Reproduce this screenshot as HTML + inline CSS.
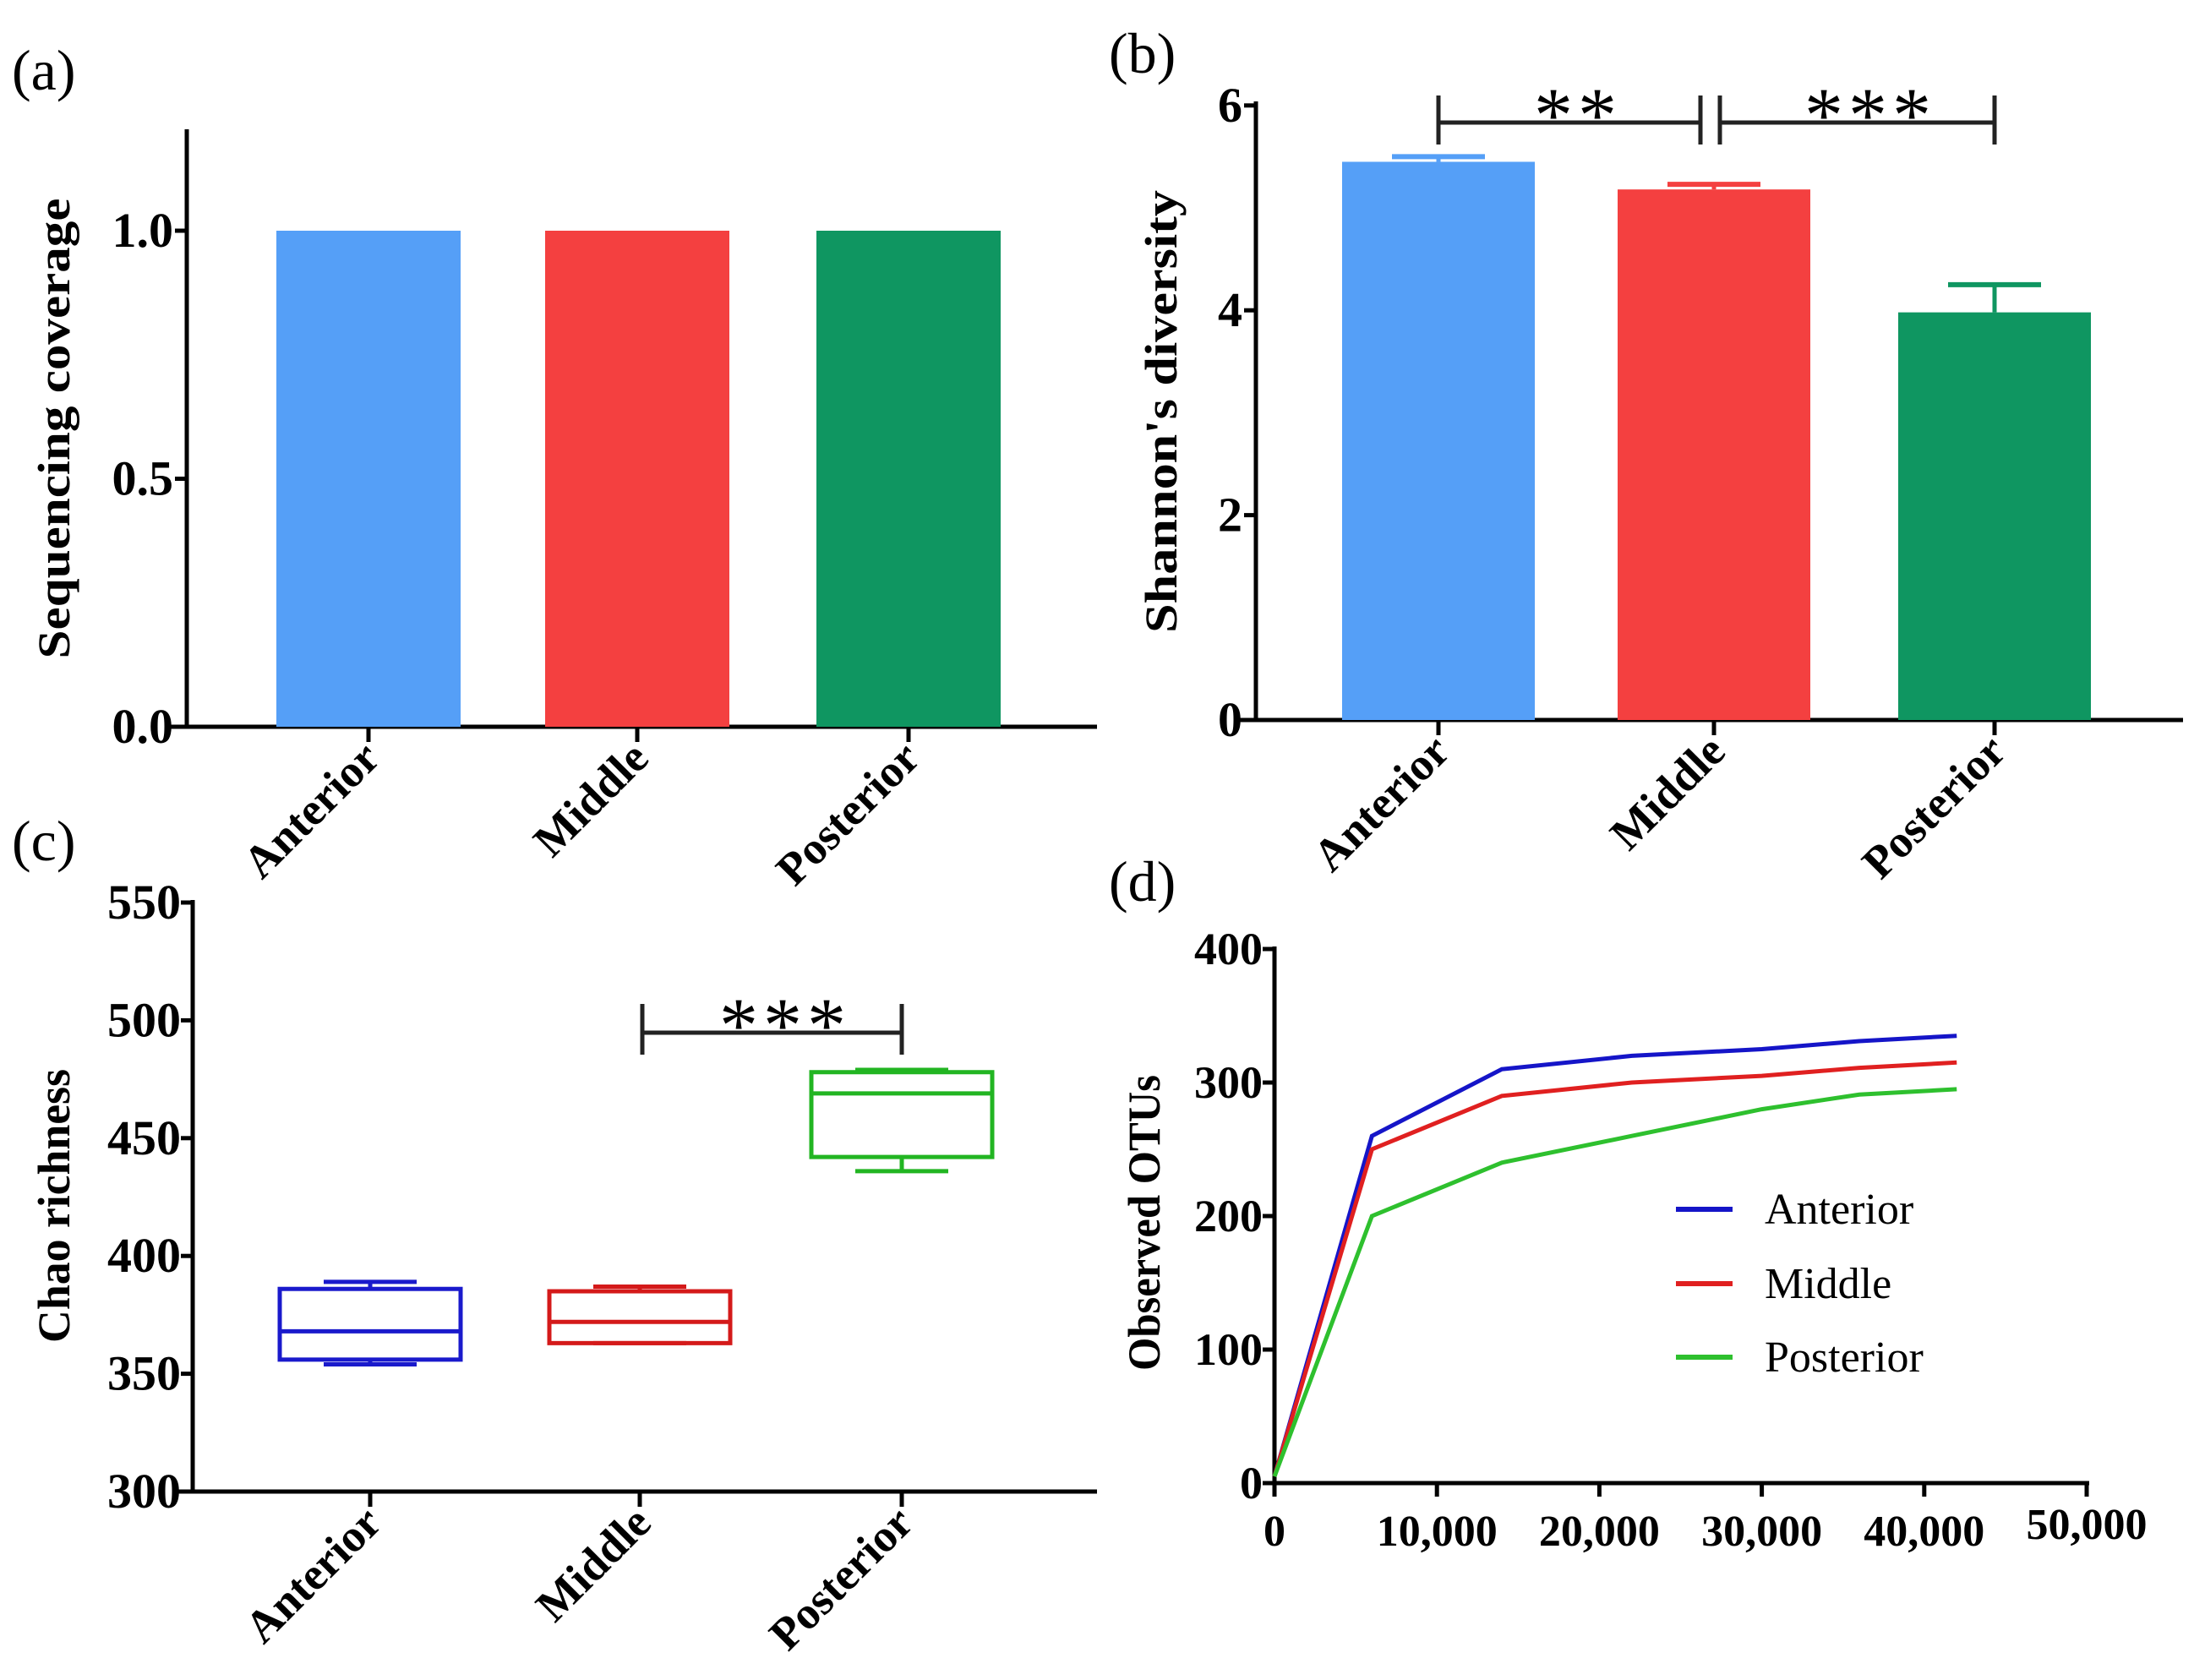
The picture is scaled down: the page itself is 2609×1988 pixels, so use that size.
<!DOCTYPE html>
<html><head><meta charset="utf-8"><style>
html,body{margin:0;padding:0;background:#fff}
svg{display:block}
text{font-family:"Liberation Serif",serif}
.b{font-weight:bold}
</style></head><body>
<svg id="fig" width="2609" height="1988" viewBox="0 0 2609 1988" xmlns="http://www.w3.org/2000/svg"></svg>
<script>
const categories = ["Anterior","Middle","Posterior"];
const coverageValues = [1.0, 1.0, 1.0];
const coverageTicks = ["0.0","0.5","1.0"];
const shannonValues = [5.45, 5.18, 3.98];
const shannonErr = [0.05, 0.05, 0.27];
const shannonTicks = [0,2,4,6];
const chaoMin = [354, 363, 436];
const chaoQ1 = [356, 363, 442];
const chaoMed = [368, 372, 469];
const chaoQ3 = [386, 385, 478];
const chaoMax = [389, 387, 479];
const chaoTicks = [300,350,400,450,500,550];
const rareX = [0, 6000, 14000, 22000, 30000, 36000, 42000];
const rareAnterior = [5, 260, 310, 320, 325, 331, 335];
const rareMiddle = [5, 250, 290, 300, 305, 311, 315];
const rarePosterior = [5, 200, 240, 260, 280, 291, 295];
const rareYTicks = [0,100,200,300,400];
const rareXTicks = ["0","10,000","20,000","30,000","40,000","50,000"];

const NS="http://www.w3.org/2000/svg";
const svg=document.getElementById('fig');
function el(tag,attrs,parent,txt){const e=document.createElementNS(NS,tag);for(const k in attrs)e.setAttribute(k,attrs[k]);if(txt!==undefined)e.textContent=txt;(parent||svg).appendChild(e);return e;}
function grp(name){const g=el('g',{});return g;}

const barColors=["#559ff7","#f44040","#0f9661"];
const boxColors=["#1a1acc","#d41a1a","#22b522"];
const lineColors=["#1515c8","#e02020","#2ec02e"];

function panelLabel(g,txt,x,y){const t=el('text',{x:x,y:y,'font-size':68},g,txt);}
function yTitle(g,txt,x,y,len){const t=el('text',{x:x,y:y,'font-size':54,'class':'b','text-anchor':'middle',transform:`rotate(-90 ${x} ${y})`,textLength:len,lengthAdjust:'spacingAndGlyphs'},g,txt);}
function catLabels(g,ticksX,axisY){categories.forEach((c,i)=>{const x=ticksX[i]+16,y=axisY+40;const t=el('text',{x:x,y:y,'font-size':54,'class':'b','text-anchor':'end',transform:`rotate(-45 ${x} ${y})`},g,c);});}
function axes(g,x0,yTop,yBot,xEnd){el('line',{x1:x0,y1:yTop,x2:x0,y2:yBot+2,stroke:'#000','stroke-width':5},g);el('line',{x1:x0-20,y1:yBot,x2:xEnd,y2:yBot,stroke:'#000','stroke-width':5},g);}
function bracket(g,x1,x2,y,t1,t2,stars,sx){el('line',{x1:x1,y1:y,x2:x2,y2:y,stroke:'#222','stroke-width':5},g);el('line',{x1:x1,y1:t1,x2:x1,y2:t2,stroke:'#222','stroke-width':5},g);el('line',{x1:x2,y1:t1,x2:x2,y2:t2,stroke:'#222','stroke-width':5},g);const t=el('text',{x:sx,y:y+22,'font-size':92,'text-anchor':'middle','letter-spacing':6},g,stars);}

// Panel A
(function(){const g=grp('panel-a-coverage');panelLabel(g,'(a)',14,106);
const x0=221,y0=860,yPer=587,ya=v=>y0-v*yPer;const ticks=[436,754,1075],bw=218;
axes(g,x0,153,y0,1298);
coverageTicks.forEach(t=>{const y=ya(parseFloat(t));el('line',{x1:x0-14,y1:y,x2:x0,y2:y,stroke:'#000','stroke-width':5},g);const tx=el('text',{x:x0-16,y:y+19,'font-size':58,'class':'b','text-anchor':'end'},g,t);});
categories.forEach((c,i)=>{const r=el('rect',{x:ticks[i]-bw/2,y:ya(coverageValues[i]),width:bw,height:y0-ya(coverageValues[i]),fill:barColors[i]},g);el('line',{x1:ticks[i],y1:y0,x2:ticks[i],y2:y0+18,stroke:'#000','stroke-width':5},g);});
catLabels(g,ticks,y0);yTitle(g,'Sequencing coverage',82,507,545);})();

// Panel B
(function(){const g=grp('panel-b-shannon');panelLabel(g,'(b)',1312,86);
const x0=1486,y0=852,yPer=121.2,ya=v=>y0-v*yPer;const ticks=[1702,2028,2360],bw=228;
axes(g,x0,120,y0,2583);
shannonTicks.forEach(t=>{const y=ya(t);el('line',{x1:x0-14,y1:y,x2:x0,y2:y,stroke:'#000','stroke-width':5},g);const tx=el('text',{x:x0-16,y:y+19,'font-size':58,'class':'b','text-anchor':'end'},g,String(t));});
categories.forEach((c,i)=>{const top=ya(shannonValues[i]),et=ya(shannonValues[i]+shannonErr[i]);el('line',{x1:ticks[i],y1:top,x2:ticks[i],y2:et,stroke:barColors[i],'stroke-width':5},g);el('line',{x1:ticks[i]-55,y1:et,x2:ticks[i]+55,y2:et,stroke:barColors[i],'stroke-width':6},g);
const r=el('rect',{x:ticks[i]-bw/2,y:top,width:bw,height:y0-top,fill:barColors[i]},g);el('line',{x1:ticks[i],y1:y0,x2:ticks[i],y2:y0+18,stroke:'#000','stroke-width':5},g);});
bracket(g,ticks[0],2012,145,113,171,'**',1867);bracket(g,2035,ticks[2],145,113,171,'***',2213);
catLabels(g,ticks,y0);yTitle(g,"Shannon's diversity",1392,487,524);})();

// Panel C
(function(){const g=grp('panel-c-chao');panelLabel(g,'(c)',14,1018);
const x0=228,y0=1765,per=139.4/50,ya=v=>y0-(v-300)*per;const ticks=[438,757,1067],bw=214;
axes(g,x0,1065,y0,1298);
chaoTicks.forEach(t=>{const y=ya(t);el('line',{x1:x0-14,y1:y,x2:x0,y2:y,stroke:'#000','stroke-width':5},g);const tx=el('text',{x:x0-14,y:y+19,'font-size':58,'class':'b','text-anchor':'end'},g,String(t));});
categories.forEach((c,i)=>{const b=grp('box-'+c.toLowerCase());g.appendChild(b);const cx=ticks[i],col=boxColors[i],sw=5;
el('line',{x1:cx,y1:ya(chaoMax[i]),x2:cx,y2:ya(chaoQ3[i]),stroke:col,'stroke-width':sw},b);el('line',{x1:cx,y1:ya(chaoQ1[i]),x2:cx,y2:ya(chaoMin[i]),stroke:col,'stroke-width':sw},b);
el('line',{x1:cx-55,y1:ya(chaoMax[i]),x2:cx+55,y2:ya(chaoMax[i]),stroke:col,'stroke-width':sw},b);el('line',{x1:cx-55,y1:ya(chaoMin[i]),x2:cx+55,y2:ya(chaoMin[i]),stroke:col,'stroke-width':sw},b);
el('rect',{x:cx-bw/2,y:ya(chaoQ3[i]),width:bw,height:ya(chaoQ1[i])-ya(chaoQ3[i]),fill:'none',stroke:col,'stroke-width':sw},b);
el('line',{x1:cx-bw/2,y1:ya(chaoMed[i]),x2:cx+bw/2,y2:ya(chaoMed[i]),stroke:col,'stroke-width':sw},b);
el('line',{x1:cx,y1:y0,x2:cx,y2:y0+18,stroke:'#000','stroke-width':5},g);});
bracket(g,760,ticks[2],1222,1188,1248,'***',929);
catLabels(g,ticks,y0);yTitle(g,'Chao richness',82,1427,324);})();

// Panel D
(function(){const g=grp('panel-d-rarefaction');panelLabel(g,'(d)',1312,1066);
const x0=1508,y0=1755,per=158/100,ya=v=>y0-v*per,xa=v=>x0+v*(961/50000);
el('line',{x1:x0,y1:1120,x2:x0,y2:y0+2,stroke:'#000','stroke-width':5},g);el('line',{x1:x0-12,y1:y0,x2:2472,y2:y0,stroke:'#000','stroke-width':5},g);
rareYTicks.forEach(t=>{const y=ya(t);el('line',{x1:x0-14,y1:y,x2:x0,y2:y,stroke:'#000','stroke-width':5},g);const tx=el('text',{x:x0-14,y:y+18,'font-size':54,'class':'b','text-anchor':'end'},g,String(t));});
rareXTicks.forEach((t,i)=>{const x=xa(i*10000);el('line',{x1:x,y1:y0,x2:x,y2:y0+16,stroke:'#000','stroke-width':5},g);const tx=el('text',{x:x,y:y0+(i==5?66:74),'font-size':52,'class':'b','text-anchor':'middle'},g,t);});
const series=[rareAnterior,rareMiddle,rarePosterior];
series.forEach((s,k)=>{const p=el('polyline',{points:s.map((v,i)=>xa(rareX[i])+','+ya(v)).join(' '),fill:'none',stroke:lineColors[k],'stroke-width':5},g);});
const ly=[1431,1519,1606];
categories.forEach((c,k)=>{const lg=grp('legend-entry');g.appendChild(lg);el('line',{x1:1983,y1:ly[k],x2:2050,y2:ly[k],stroke:lineColors[k],'stroke-width':6},lg);el('text',{x:2088,y:ly[k]+17,'font-size':52},lg,c);});
yTitle(g,'Observed OTUs',1372,1447,350);})();
</script>
</body></html>
